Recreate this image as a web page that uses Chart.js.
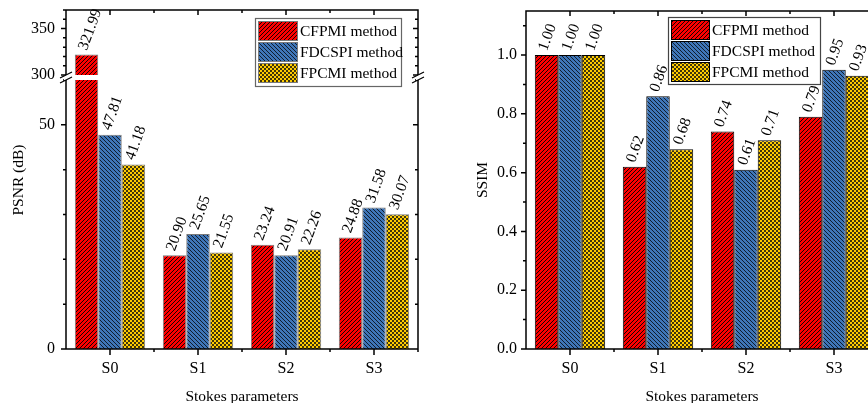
<!DOCTYPE html>
<html>
<head>
<meta charset="utf-8">
<script src="https://cdn.jsdelivr.net/npm/chart.js@4.4.1/dist/chart.umd.min.js"></script>
<style>
  html, body { margin: 0; padding: 0; background: #fff; }
  body { width: 868px; height: 403px; overflow: hidden; position: relative; }
  canvas { position: absolute; top: 0; }
</style>
</head>
<body>
<canvas id="psnrLow" width="430" height="403" style="left:0"></canvas>
<canvas id="psnrHigh" width="430" height="403" style="left:0"></canvas>
<canvas id="ssim" width="460" height="403" style="left:430px"></canvas>
<script>
const categories = ['S0', 'S1', 'S2', 'S3'];
const methods = ['CFPMI method', 'FDCSPI method', 'FPCMI method'];
const psnrCFPMI = [321.99, 20.90, 23.24, 24.88];
const psnrFDCSPI = [47.81, 25.65, 20.91, 31.58];
const psnrFPCMI = [41.18, 21.55, 22.26, 30.07];
const ssimCFPMI = [1.00, 0.62, 0.74, 0.79];
const ssimFDCSPI = [1.00, 0.86, 0.61, 0.95];
const ssimFPCMI = [1.00, 0.68, 0.71, 0.93];
const psnrLowMajor = [0, 50];
const psnrHighMajor = [300, 350];
const ssimMajor = [0, 0.2, 0.4, 0.6, 0.8, 1.0];

const serif = '"Liberation Serif", "Times New Roman", serif';
Chart.defaults.font.family = serif;
Chart.defaults.font.size = 16;
Chart.defaults.color = '#000';

// hatch fills
function makePattern(kind) {
    const c = document.createElement('canvas');
    c.width = 4; c.height = 4;
    const g = c.getContext('2d');
    g.strokeStyle = '#000';
    if (kind === 'red') {
        g.fillStyle = '#ff0000'; g.fillRect(0, 0, 4, 4);
        g.lineWidth = 0.9;
        g.beginPath();
        g.moveTo(-1, 5); g.lineTo(5, -1);
        g.moveTo(-1, 1); g.lineTo(1, -1);
        g.moveTo(3, 5); g.lineTo(5, 3);
        g.stroke();
    } else if (kind === 'blue') {
        g.fillStyle = '#3f76b8'; g.fillRect(0, 0, 4, 4);
        g.lineWidth = 0.75;
        g.beginPath();
        g.moveTo(-1, -1); g.lineTo(5, 5);
        g.moveTo(-1, 3); g.lineTo(1, 5);
        g.moveTo(3, -1); g.lineTo(5, 1);
        g.stroke();
    } else {
        g.fillStyle = '#ffcc00'; g.fillRect(0, 0, 4, 4);
        g.fillStyle = 'rgba(15,15,15,0.8)';
        g.fillRect(0, 0, 2, 2);
        g.fillRect(2, 2, 2, 2);
    }
    return g.createPattern(c, 'repeat');
}
const fills = [makePattern('red'), makePattern('blue'), makePattern('yellow')];

const valueLabels = {
    id: 'valueLabels',
    afterDatasetsDraw(chart, args, opts) {
        const ctx = chart.ctx;
        const y = chart.scales.y;
        ctx.save();
        ctx.font = '15.5px ' + serif;
        ctx.fillStyle = '#000';
        ctx.textAlign = 'left';
        ctx.textBaseline = 'middle';
        chart.data.datasets.forEach((ds, i) => {
            chart.getDatasetMeta(i).data.forEach((bar, j) => {
                const v = ds.data[j];
                if (v < y.min || v > y.max) return;
                ctx.save();
                ctx.translate(bar.x - 3.5, bar.y - 5);
                ctx.rotate(-70 * Math.PI / 180);
                ctx.fillText(v.toFixed(2), 0, 0);
                ctx.restore();
            });
        });
        ctx.restore();
    }
};

const frame = {
    id: 'frame',
    afterDraw(chart, args, o) {
        const { ctx, chartArea: a } = chart;
        const x = chart.scales.x, y = chart.scales.y;
        ctx.save();
        ctx.strokeStyle = '#000';
        ctx.lineWidth = 1.5;
        ctx.beginPath();
        ctx.moveTo(a.left, a.top); ctx.lineTo(a.left, a.bottom);
        ctx.moveTo(a.right, a.top); ctx.lineTo(a.right, a.bottom);
        if (o.top) { ctx.moveTo(a.left - 0.75, a.top); ctx.lineTo(a.right + 0.75, a.top); }
        if (o.bottom) { ctx.moveTo(a.left - 0.75, a.bottom); ctx.lineTo(a.right + 0.75, a.bottom); }
        // y ticks, outward on the left, inward on the right
        for (let v = y.min; v <= y.max + 1e-9; v += o.minor) {
            const py = y.getPixelForValue(v);
            const major = o.major.some(m => Math.abs(m - v) < 1e-6);
            const len = major ? 5 : 3;
            ctx.moveTo(a.left - len, py); ctx.lineTo(a.left, py);
            ctx.moveTo(a.right, py); ctx.lineTo(a.right - len, py);
        }
        const n = chart.data.labels.length;
        for (let i = 0; i < n; i++) {
            const pc = x.getPixelForValue(i);
            const pb = x.getPixelForValue(i + 0.5);
            if (o.top) {
                ctx.moveTo(pc, a.top); ctx.lineTo(pc, a.top + 5);
                ctx.moveTo(pb, a.top); ctx.lineTo(pb, a.top + 3);
            }
            if (o.bottom) {
                ctx.moveTo(pc, a.bottom); ctx.lineTo(pc, a.bottom + 6);
                ctx.moveTo(pb, a.bottom); ctx.lineTo(pb, a.bottom + 3);
            }
        }
        ctx.stroke();
        if (o.breakMarks) {
            ctx.lineWidth = 1.2;
            [a.left, a.right].forEach(px => {
                ctx.fillStyle = '#fff';
                ctx.fillRect(px - 2, a.bottom + 0.5, 4, 4.5);
                ctx.beginPath();
                ctx.moveTo(px - 6, a.bottom + 3); ctx.lineTo(px + 6, a.bottom - 3);
                ctx.moveTo(px - 6, a.bottom + 8); ctx.lineTo(px + 6, a.bottom + 2);
                ctx.stroke();
            });
        }
        if (o.yTitle) {
            ctx.translate(o.yTitle.x, o.yTitle.y);
            ctx.rotate(-Math.PI / 2);
            ctx.font = '15.5px ' + serif;
            ctx.fillStyle = '#000';
            ctx.textAlign = 'center';
            ctx.textBaseline = 'middle';
            ctx.fillText(o.yTitle.text, 0, 0);
        }
        ctx.restore();
    }
};

const boxLegend = {
    id: 'boxLegend',
    afterDraw(chart, args, o) {
        if (o.x === undefined) return;
        const ctx = chart.ctx;
        ctx.save();
        ctx.fillStyle = '#fff';
        ctx.fillRect(o.x, o.y, o.w, o.h);
        ctx.strokeStyle = o.frameColor;
        ctx.lineWidth = 1.2;
        ctx.strokeRect(o.x + 0.5, o.y + 0.5, o.w, o.h);
        ctx.font = '15.5px ' + serif;
        ctx.textBaseline = 'middle';
        chart.data.datasets.forEach((ds, i) => {
            const sy = o.y + 3 + i * o.row;
            ctx.fillStyle = ds.backgroundColor;
            ctx.fillRect(o.x + 3, sy, o.sw, 19);
            ctx.strokeStyle = ds.borderColor;
            ctx.lineWidth = 1;
            ctx.strokeRect(o.x + 3.5, sy + 0.5, o.sw, 19);
            ctx.fillStyle = '#000';
            ctx.fillText(ds.label, o.x + o.sw + 6, sy + 10.5);
        });
        ctx.restore();
    }
};

function datasets(series, border) {
    return series.map((d, i) => ({
        label: methods[i],
        data: d,
        backgroundColor: fills[i],
        borderColor: border,
        borderWidth: 1,
        categoryPercentage: 0.8,
        barPercentage: 1.0
    }));
}

function xScale(display) {
    const s = {
        display: display,
        offset: true,
        grid: { display: false, drawTicks: false },
        border: { display: false },
        ticks: { padding: 10 },
        title: { display: true, text: 'Stokes parameters', font: { size: 15.5 }, padding: { top: 0, bottom: -3 } }
    };
    if (display) s.afterFit = sc => { sc.height = 54; };
    return s;
}

// fixed axis width, and no extra room for the end tick labels
function yFit(width) {
    return s => { s.width = width; s.paddingTop = 0; s.paddingBottom = 0; };
}

const psnrSeries = [psnrCFPMI, psnrFDCSPI, psnrFPCMI];
const ssimSeries = [ssimCFPMI, ssimFDCSPI, ssimFPCMI];

// lower segment of the broken PSNR axis
new Chart(document.getElementById('psnrLow'), {
    type: 'bar',
    data: { labels: categories, datasets: datasets(psnrSeries, '#7a7a7a') },
    options: {
        responsive: false,
        animation: false,
        layout: { autoPadding: false, padding: { top: 80, right: 12, left: 0, bottom: 0 } },
        plugins: {
            legend: { display: false },
            tooltip: { enabled: false },
            frame: { bottom: true, minor: 10, major: psnrLowMajor, yTitle: { text: 'PSNR (dB)', x: 19, y: 180 } }
        },
        scales: {
            x: xScale(true),
            y: {
                min: 0, max: 60,
                grid: { display: false, drawTicks: false },
                border: { display: false },
                ticks: { stepSize: 50, padding: 11, callback: v => psnrLowMajor.includes(v) ? v : '' },
                afterFit: yFit(66)
            }
        }
    },
    plugins: [frame, valueLabels]
});

// upper segment of the broken PSNR axis
new Chart(document.getElementById('psnrHigh'), {
    type: 'bar',
    data: { labels: categories, datasets: datasets(psnrSeries, '#7a7a7a') },
    options: {
        responsive: false,
        animation: false,
        layout: { autoPadding: false, padding: { top: 10, right: 12, left: 0, bottom: 328 } },
        plugins: {
            legend: { display: false },
            tooltip: { enabled: false },
            frame: { top: true, minor: 10, major: psnrHighMajor, breakMarks: true },
            boxLegend: { x: 255, y: 18, w: 146, h: 68, row: 21, sw: 39, frameColor: '#666' }
        },
        scales: {
            x: xScale(false),
            y: {
                min: 300, max: 370,
                grid: { display: false, drawTicks: false },
                border: { display: false },
                ticks: { stepSize: 50, padding: 11, callback: v => psnrHighMajor.includes(v) ? v : '' },
                afterFit: yFit(66)
            }
        }
    },
    plugins: [frame, valueLabels, boxLegend]
});

new Chart(document.getElementById('ssim'), {
    type: 'bar',
    data: { labels: categories, datasets: datasets(ssimSeries, '#000') },
    options: {
        responsive: false,
        animation: false,
        layout: { autoPadding: false, padding: { top: 11, right: 12, left: 0, bottom: 0 } },
        plugins: {
            legend: { display: false },
            tooltip: { enabled: false },
            frame: { top: true, bottom: true, minor: 0.1, major: ssimMajor },
            boxLegend: { x: 238, y: 17, w: 152, h: 67, row: 21, sw: 38, frameColor: '#444' }
        },
        scales: {
            x: xScale(true),
            y: {
                min: 0, max: 1.15,
                grid: { display: false, drawTicks: false },
                border: { display: false },
                title: { display: true, text: 'SSIM', font: { size: 15.5 }, padding: { top: 44, bottom: 0 } },
                ticks: {
                    stepSize: 0.2, padding: 9,
                    callback: v => ssimMajor.some(m => Math.abs(m - v) < 1e-6) ? v.toFixed(1) : ''
                },
                afterFit: yFit(96)
            }
        }
    },
    plugins: [frame, valueLabels, boxLegend]
});
</script>
</body>
</html>
